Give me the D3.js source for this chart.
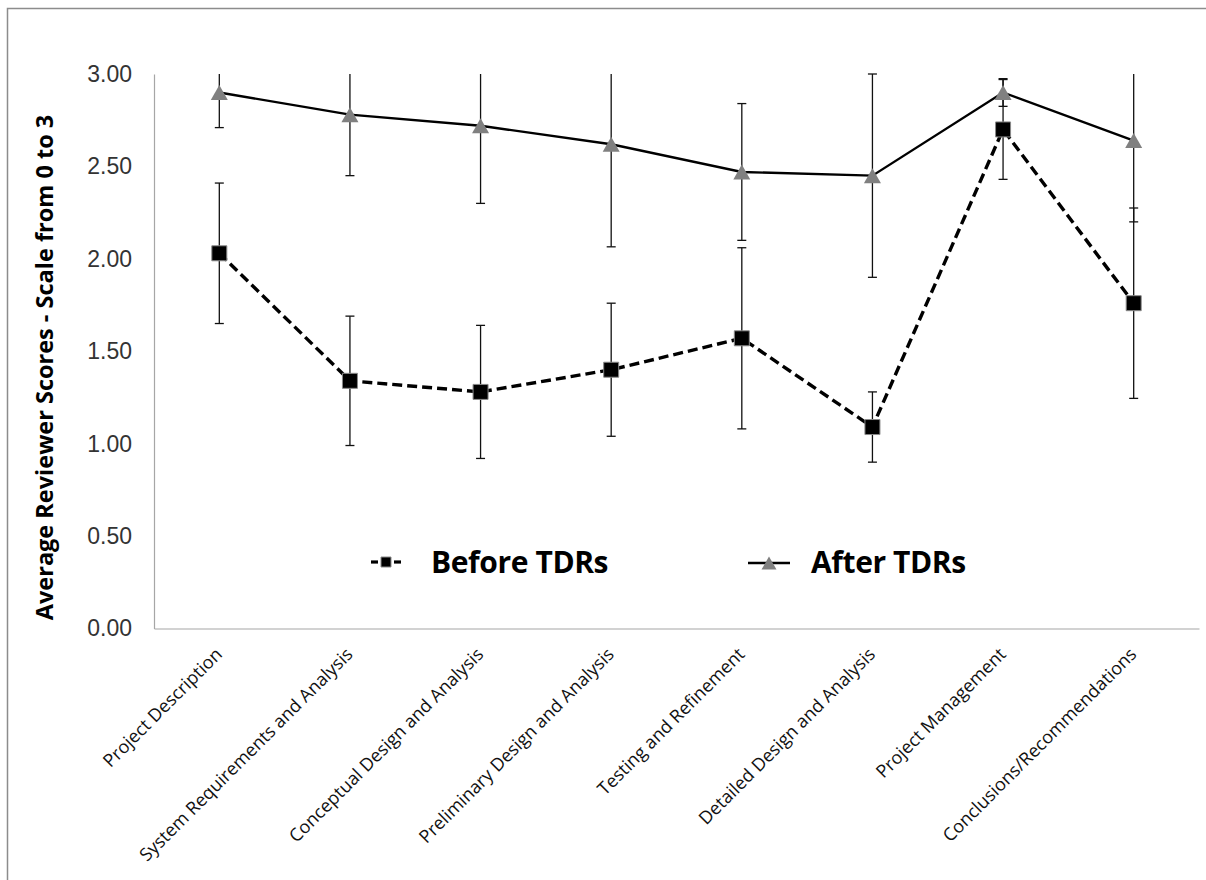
<!DOCTYPE html>
<html>
<head>
<meta charset="utf-8">
<script src="https://cdn.jsdelivr.net/npm/d3@7"></script>
<style>
  body { margin: 0; background: #fff; }
  svg { display: block; font-family: 'Open Sans', sans-serif; }
</style>
</head>
<body>
<div id="chart"></div>
<script>
const categories = [
  'Project Description',
  'System Requirements and Analysis',
  'Conceptual Design and Analysis',
  'Preliminary Design and Analysis',
  'Testing and Refinement',
  'Detailed Design and Analysis',
  'Project Management',
  'Conclusions/Recommendations',
];

// Before TDRs (dashed line, squares)
const beforeValues = [2.03, 1.34, 1.28, 1.40, 1.57, 1.09, 2.70, 1.76];
const beforeErrors = [0.38, 0.35, 0.36, 0.36, 0.49, 0.19, 0.27, 0.515];

// After TDRs (solid line, triangles)
const afterValues = [2.90, 2.78, 2.72, 2.62, 2.47, 2.45, 2.90, 2.64];
const afterErrors = [0.19, 0.33, 0.42, 0.555, 0.37, 0.55, 0.075, 0.44];

const yTicks = [0, 0.5, 1, 1.5, 2, 2.5, 3];
const yTitle = 'Average Reviewer Scores - Scale from 0 to 3';
const legendLabels = ['Before TDRs', 'After TDRs'];

const width = 1206;
const height = 880;
const plot = { left: 154, right: 1199, top: 74, bottom: 628.5 };

const svg = d3.select('#chart')
  .append('svg')
  .attr('width', width)
  .attr('height', height);

// outer chart frame
svg.append('rect')
  .attr('x', 7.5)
  .attr('y', 8.5)
  .attr('width', width + 10)
  .attr('height', height + 10)
  .attr('fill', 'none')
  .attr('stroke', '#8c8c8c')
  .attr('stroke-width', 1.5);

const xScale = d3.scaleBand()
  .domain(categories)
  .range([plot.left, plot.right]);

const yScale = d3.scaleLinear()
  .domain([0, 3])
  .range([plot.bottom, plot.top]);

const cx = (i) => xScale(categories[i]) + xScale.bandwidth() / 2;

// y axis: line + labels, no ticks
const yAxis = svg.append('g')
  .attr('class', 'axis y')
  .attr('transform', `translate(${plot.left},0)`)
  .call(d3.axisLeft(yScale).tickValues(yTicks).tickSize(0).tickPadding(22).tickFormat(d3.format('.2f')));

yAxis.select('.domain').attr('stroke', '#a6a6a6').attr('stroke-width', 1.2);
yAxis.selectAll('text')
  .attr('fill', '#333')
  .style('font-size', '23px');

// x axis: line + rotated labels
const xAxis = svg.append('g')
  .attr('class', 'axis x')
  .attr('transform', `translate(0,${plot.bottom})`)
  .call(d3.axisBottom(xScale).tickSize(0).tickFormat(''));

xAxis.select('.domain').attr('stroke', '#a6a6a6').attr('stroke-width', 1.2);

svg.append('g')
  .attr('class', 'x-labels')
  .selectAll('text')
  .data(categories)
  .join('text')
  .attr('transform', (d, i) => `translate(${cx(i) + 4},${plot.bottom + 27}) rotate(-45)`)
  .attr('text-anchor', 'end')
  .attr('fill', '#111')
  .style('font-size', '18px')
  .text((d) => d);

// y axis title
svg.append('text')
  .attr('transform', `translate(53,${(113 + 622) / 2}) rotate(-90)`)
  .attr('text-anchor', 'middle')
  .style('font-size', '23.5px')
  .style('font-weight', 'bold')
  .attr('fill', '#000')
  .text(yTitle);

const clampY = (v) => yScale(Math.max(0, Math.min(3, v)));

const drawErrorBars = (values, errors, cls) => {
  const g = svg.append('g').attr('class', `errors ${cls}`);
  values.forEach((v, i) => {
    const hi = v + errors[i];
    const lo = v - errors[i];
    const x = cx(i);
    g.append('line')
      .attr('x1', x).attr('x2', x)
      .attr('y1', clampY(hi)).attr('y2', clampY(lo))
      .attr('stroke', '#111').attr('stroke-width', 1.3);
    [hi, lo].filter((e) => e <= 3 && e >= 0).forEach((e) => {
      g.append('line')
        .attr('x1', x - 4.5).attr('x2', x + 4.5)
        .attr('y1', yScale(e)).attr('y2', yScale(e))
        .attr('stroke', '#111').attr('stroke-width', 1.3);
    });
  });
};

drawErrorBars(beforeValues, beforeErrors, 'before');
drawErrorBars(afterValues, afterErrors, 'after');

const line = d3.line()
  .x((d, i) => cx(i))
  .y((d) => yScale(d));

svg.append('path')
  .attr('class', 'line before')
  .attr('d', line(beforeValues))
  .attr('fill', 'none')
  .attr('stroke', '#000')
  .attr('stroke-width', 3.4)
  .attr('stroke-dasharray', '10,5');

svg.append('path')
  .attr('class', 'line after')
  .attr('d', line(afterValues))
  .attr('fill', 'none')
  .attr('stroke', '#000')
  .attr('stroke-width', 2.4);

const square = (s) => `M${-s / 2},${-s / 2}h${s}v${s}h${-s}Z`;
const triangle = (w, h) => `M0,${-h / 2}L${w / 2},${h / 2}L${-w / 2},${h / 2}Z`;

svg.append('g')
  .attr('class', 'markers before')
  .selectAll('path')
  .data(beforeValues)
  .join('path')
  .attr('transform', (d, i) => `translate(${cx(i)},${yScale(d)})`)
  .attr('d', square(15))
  .attr('fill', '#000')
  .attr('stroke', '#8a8a8a')
  .attr('stroke-width', 1);

svg.append('g')
  .attr('class', 'markers after')
  .selectAll('path')
  .data(afterValues)
  .join('path')
  .attr('transform', (d, i) => `translate(${cx(i)},${yScale(d)})`)
  .attr('d', triangle(17, 15))
  .attr('fill', '#808080');

// legend
const legend = svg.append('g').attr('class', 'legend');
const legendY = 562;

[[371, 378], [394, 401]].forEach(([x1, x2]) => {
  legend.append('line')
    .attr('x1', x1).attr('x2', x2)
    .attr('y1', legendY).attr('y2', legendY)
    .attr('stroke', '#000').attr('stroke-width', 3.2);
});
legend.append('path')
  .attr('transform', `translate(386,${legendY})`)
  .attr('d', square(10))
  .attr('fill', '#000')
  .attr('stroke', '#8a8a8a');
legend.append('text')
  .attr('x', 431).attr('y', legendY + 10.5)
  .style('font-size', '30px')
  .style('font-weight', 'bold')
  .style('letter-spacing', '-0.4px')
  .text(legendLabels[0]);

legend.append('line')
  .attr('x1', 748).attr('x2', 790)
  .attr('y1', legendY + 1).attr('y2', legendY + 1)
  .attr('stroke', '#000').attr('stroke-width', 2.4);
legend.append('path')
  .attr('transform', `translate(769,${legendY + 1})`)
  .attr('d', triangle(15, 13))
  .attr('fill', '#808080');
legend.append('text')
  .attr('x', 811).attr('y', legendY + 10.5)
  .style('font-size', '30px')
  .style('font-weight', 'bold')
  .style('letter-spacing', '-0.4px')
  .text(legendLabels[1]);
</script>
</body>
</html>
